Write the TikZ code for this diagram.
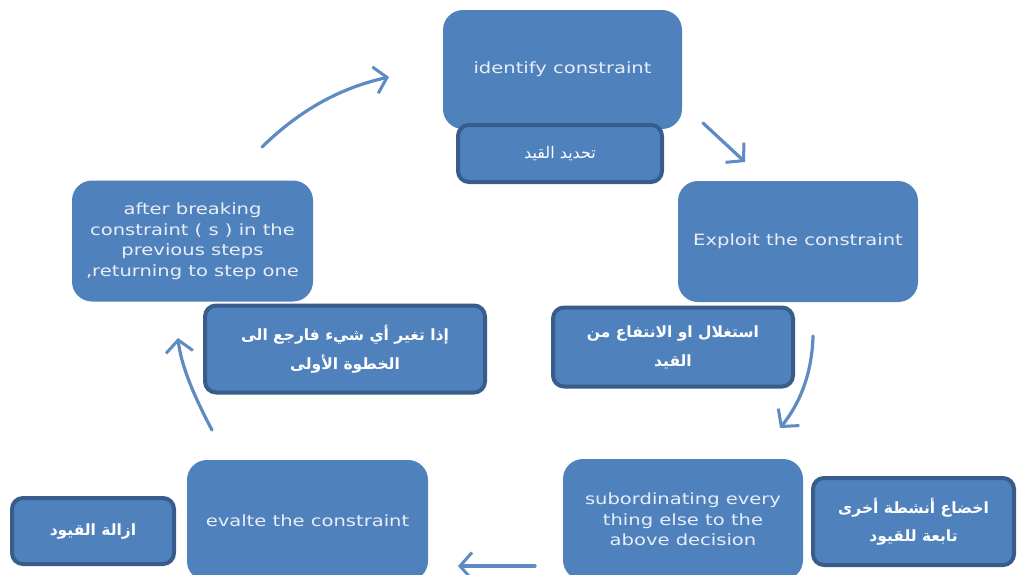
\documentclass[tikz,border=0pt]{standalone}
\usepackage{fontspec}
\usetikzlibrary{arrows.meta}
\TeXXeTstate=1
\newfontfamily\enfont[FakeStretch=1.26]{DejaVu Sans}
\newfontfamily\arabicfont[Script=Arabic]{DejaVu Sans}
\definecolor{boxblue}{HTML}{4F81BD}
\definecolor{boxedge}{HTML}{385D8A}
\definecolor{entext}{HTML}{E8EEF7}
\tikzset{
  stepbox/.style={rectangle, rounded corners=20pt, fill=boxblue, draw=none,
    text=entext, font=\enfont\fontsize{15.5}{20.5}\selectfont, align=center, inner sep=0pt},
  arbox/.style={rectangle, rounded corners=11pt, fill=boxblue, draw=boxedge, line width=4pt,
    text=white, font=\arabicfont\fontsize{16}{29}\selectfont, align=center, inner sep=0pt},
  arbold/.style={font=\arabicfont\bfseries\fontsize{15.5}{29}\selectfont},
  cyclearrow/.style={draw=boxblue!92!white, line width=3.2pt, line cap=round,
    -{Straight Barb[length=12pt,width=27pt,line width=3pt]}}
}
\begin{document}
\begin{tikzpicture}[x=1pt,y=-1pt]
\useasboundingbox (0,0) rectangle (1019,574);
\clip (0,0) rectangle (1019,574);
\fill[white] (0,0) rectangle (1019,574);
% main step boxes
\node[stepbox, minimum width=239pt, minimum height=119pt] (identify) at (562.5,69.5) {identify constraint};
\node[stepbox, minimum width=240pt, minimum height=121pt] (exploit) at (798,241.5) {Exploit the constraint};
\node[stepbox, minimum width=240pt, minimum height=121pt] (subord) at (683,519.5) {subordinating every\\thing else to the\\above decision};
\node[stepbox, minimum width=241pt, minimum height=121pt] (evalte) at (307.5,520.5) {evalte the constraint};
\node[stepbox, minimum width=241pt, minimum height=121pt] (after) at (192.5,241) {after breaking\\constraint ( s ) in the\\previous steps\\,returning to step one};
% arabic boxes
\node[arbox, minimum width=204pt, minimum height=57pt] (tahdid) at (560,153.5) {\beginR تحديد القيد\endR};
\node[arbox, arbold, minimum width=240pt, minimum height=79pt] (istighlal) at (673,347) {\beginR استغلال او الانتفاع من\endR\\\beginR القيد\endR};
\node[arbox, arbold, minimum width=201pt, minimum height=87pt, font=\arabicfont\bfseries\fontsize{15.5}{28}\selectfont] (ikhda) at (913.5,521.5) {\beginR اخضاع أنشطة أخرى\endR\\\beginR تابعة للقيود\endR};
\node[arbox, arbold, minimum width=162pt, minimum height=66pt] (izala) at (93,531) {\beginR ازالة القيود\endR};
\node[arbox, arbold, minimum width=280pt, minimum height=87pt] (itha) at (345,349) {\beginR إذا تغير أي شيء فارجع الى\endR\\\beginR الخطوة الأولى\endR};
% arrow end points
\coordinate (a1s) at (262,147);
\coordinate (a1e) at (389,77);
\coordinate (a2s) at (703,123);
\coordinate (a2e) at (745,162);
\coordinate (a3s) at (813,336);
\coordinate (a3e) at (780,428);
\coordinate (a4s) at (535,566);
\coordinate (a4e) at (458,566);
\coordinate (a5s) at (212,430);
\coordinate (a5e) at (178,338);
\draw[cyclearrow] (a1s) .. controls (300,110) and (340,88) .. (a1e);
\draw[cyclearrow] (a2s) -- (a2e);
\draw[cyclearrow] (a3s) .. controls (812,372) and (801,402) .. (a3e);
\draw[cyclearrow] (a4s) -- (a4e);
\draw[cyclearrow] (a5s) .. controls (195,398) and (181,366) .. (a5e);
\end{tikzpicture}
\end{document}
